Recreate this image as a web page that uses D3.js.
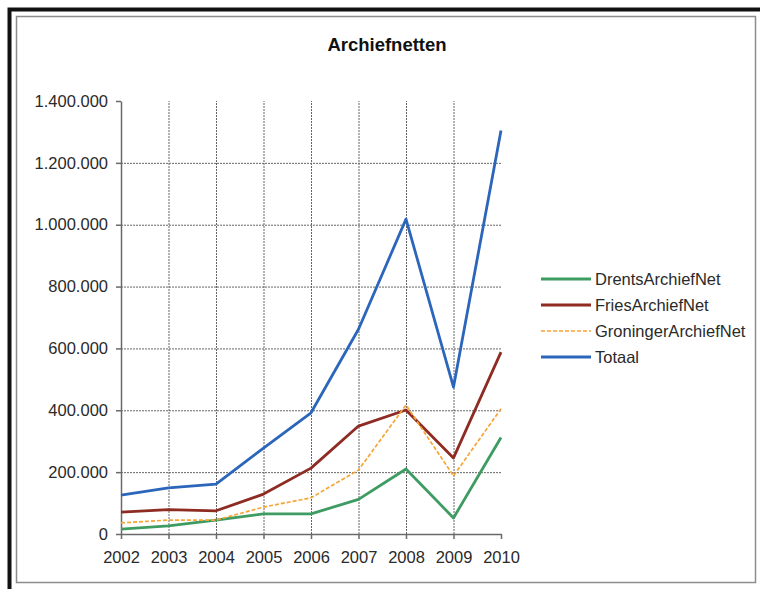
<!DOCTYPE html>
<html lang="nl">
<meta charset="utf-8">
<style>
body {
  margin: 0;
  background: #fff;
  font-family: Arial, 'Liberation Sans', sans-serif;
}
.grid line {
  stroke: #666;
  stroke-width: 1;
  stroke-dasharray: 2,1;
}
.axis path, .axis line {
  stroke: #6a6a6a;
  stroke-width: 1.5;
}
.axis text {
  font-family: Arial, 'Liberation Sans', sans-serif;
  font-size: 16.5px;
  fill: #2a2a2a;
}
.serie {
  fill: none;
  stroke-linejoin: round;
}
</style>
<body>
<div id="chart"></div>

<script src="https://cdnjs.cloudflare.com/ajax/libs/d3/7.8.5/d3.min.js"></script>
<script>

// data
var years = ["2002", "2003", "2004", "2005", "2006", "2007", "2008", "2009", "2010"];
var drents    = [16000, 26000, 45000, 65000, 65000, 112000, 210000, 52000, 312000];
var fries     = [71000, 79000, 75000, 129000, 213000, 349000, 401000, 246000, 588000];
var groninger = [36000, 45000, 45000, 87000, 117000, 207000, 417000, 188000, 405000];
var totaal    = [126000, 149000, 161000, 278000, 392000, 662000, 1018000, 475000, 1305000];
var seriesNames = ["DrentsArchiefNet", "FriesArchiefNet", "GroningerArchiefNet", "Totaal"];
var yTicks = [0, 200000, 400000, 600000, 800000, 1000000, 1200000, 1400000];

var width = 760,
    height = 589;

var svg = d3.select("#chart").append("svg")
    .attr("width", width)
    .attr("height", height);

// frame: thick black edge top/left, thin grey inner border
svg.append("path")
    .attr("d", "M9.5,589V9.5H760")
    .attr("fill", "none")
    .attr("stroke", "#111")
    .attr("stroke-width", 4);

svg.append("rect")
    .attr("x", 16.5).attr("y", 16.5)
    .attr("width", 739).attr("height", 566)
    .attr("fill", "#fff")
    .attr("stroke", "#8c8c8c")
    .attr("stroke-width", 1.5);

svg.append("text")
    .attr("x", 387)
    .attr("y", 51)
    .attr("text-anchor", "middle")
    .style("font-size", "18.5px")
    .style("font-weight", "bold")
    .style("fill", "#111")
    .text("Archiefnetten");

var x = d3.scalePoint()
    .domain(years)
    .range([121, 501]);

var y = d3.scaleLinear()
    .domain([0, 1400000])
    .range([534, 101]);

var fmt = d3.formatLocale({decimal: ",", thousands: ".", grouping: [3], currency: ["€", ""]}).format(",.0f");

// gridlines
var grid = svg.append("g").attr("class", "grid");
grid.selectAll("line.h")
    .data(yTicks.filter(function(d) { return d > 0 && d < 1400000; }))
  .enter().append("line")
    .attr("class", "h")
    .attr("x1", x.range()[0]).attr("x2", x.range()[1])
    .attr("y1", function(d) { return y(d) + 0.5; })
    .attr("y2", function(d) { return y(d) + 0.5; });
grid.selectAll("line.v")
    .data(years.slice(1, -1))
  .enter().append("line")
    .attr("class", "v")
    .attr("x1", function(d) { return x(d) + 0.5; })
    .attr("x2", function(d) { return x(d) + 0.5; })
    .attr("y1", y(0)).attr("y2", y(1400000));

// axes
svg.append("g")
    .attr("class", "axis")
    .attr("transform", "translate(" + x.range()[0] + ",0)")
    .call(d3.axisLeft(y).tickValues(yTicks).tickFormat(fmt).tickSize(5).tickSizeOuter(0).tickPadding(8));

svg.append("g")
    .attr("class", "axis")
    .attr("transform", "translate(0," + y(0) + ")")
    .call(d3.axisBottom(x).tickSize(5).tickSizeOuter(0).tickPadding(12));

svg.selectAll(".axis .domain").attr("stroke", "#6a6a6a");

// series
var series = [
  {name: seriesNames[0], values: drents,    color: "#3e9c63", width: 2.8, dash: null},
  {name: seriesNames[1], values: fries,     color: "#8e2b23", width: 2.8, dash: null},
  {name: seriesNames[2], values: groninger, color: "#f7a437", width: 1.7, dash: "4,2"},
  {name: seriesNames[3], values: totaal,    color: "#2b66bb", width: 2.8, dash: null}
];

var line = d3.line()
    .x(function(d, i) { return x(years[i]); })
    .y(function(d) { return y(d); });

svg.selectAll("path.serie")
    .data(series)
  .enter().append("path")
    .attr("class", "serie")
    .attr("d", function(d) { return line(d.values); })
    .attr("stroke", function(d) { return d.color; })
    .attr("stroke-width", function(d) { return d.width; })
    .attr("stroke-dasharray", function(d) { return d.dash; });

// legend
var legend = svg.append("g")
    .attr("transform", "translate(541,279)");

var item = legend.selectAll("g")
    .data(series)
  .enter().append("g")
    .attr("transform", function(d, i) { return "translate(0," + (i * 26) + ")"; });

item.append("line")
    .attr("x1", 0).attr("x2", 50)
    .attr("stroke", function(d) { return d.color; })
    .attr("stroke-width", function(d) { return d.width; })
    .attr("stroke-dasharray", function(d) { return d.dash; });

item.append("text")
    .attr("x", 54)
    .attr("dy", "0.35em")
    .style("font-size", "16.5px")
    .style("fill", "#2a2a2a")
    .text(function(d) { return d.name; });

</script>
</body>
</html>
